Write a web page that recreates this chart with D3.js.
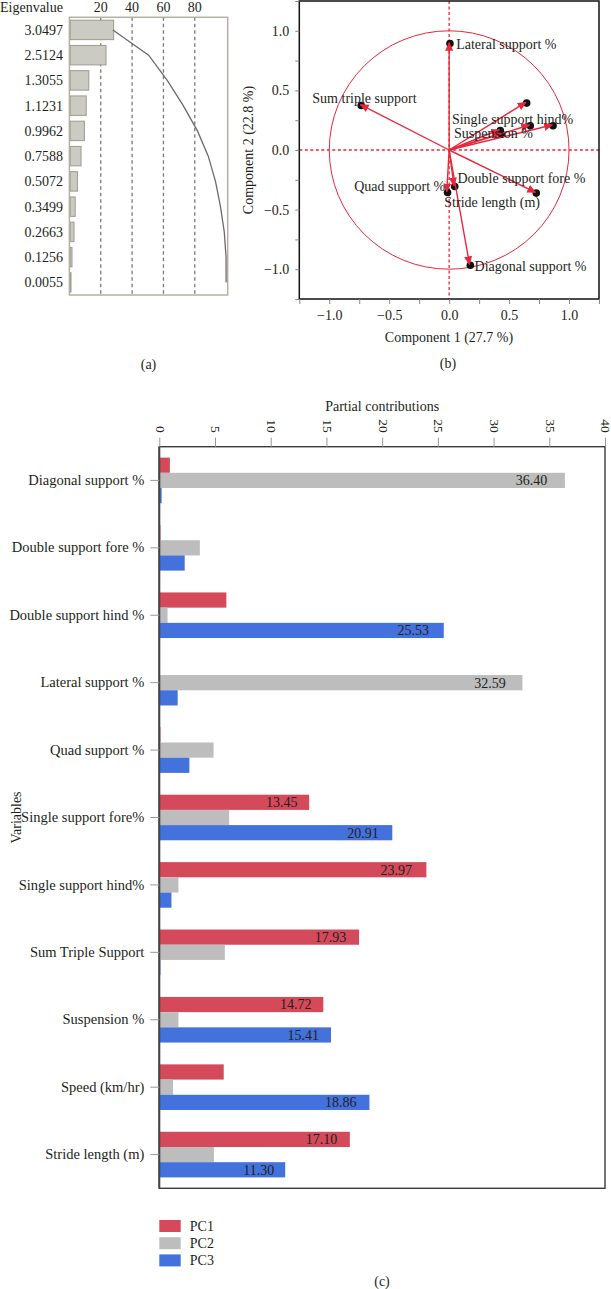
<!DOCTYPE html>
<html><head><meta charset="utf-8">
<script src="https://cdn.jsdelivr.net/npm/d3@7"></script>
<style>
body{margin:0;background:#fff}
svg{display:block;font-family:"Liberation Serif","Times New Roman",serif;}
text{fill:#231f20}
</style>
</head><body>
<svg id="chart" width="611" height="1289"></svg>
<script>
// ---------- Panel (a): scree data ----------
const eigenLabels = ["3.0497","2.5124","1.3055","1.1231","0.9962","0.7588","0.5072","0.3499","0.2663","0.1256","0.0055"];
const variancePct = [27.72, 22.84, 11.87, 10.21, 9.06, 6.90, 4.61, 3.18, 2.42, 1.14, 0.05];
const cumulativePct = [27.72, 50.56, 62.43, 72.64, 81.70, 88.60, 93.21, 96.39, 98.81, 99.95, 100.0];
const screeTicks = [20, 40, 60, 80];

// ---------- Panel (b): loadings ----------
const biplotVars = ["Diagonal support %","Double support fore %","Double support hind %","Lateral support %","Quad support %","Single support fore%","Single support hind%","Sum triple support","Suspension %","Speed (km/hr)","Stride length (m)"];
const comp1 = [0.17, 0.04, 0.43, 0.00, -0.02, 0.64, 0.86, -0.74, 0.67, 0.42, 0.72];
const comp2 = [-0.96, -0.30, 0.14, 0.90, -0.35, 0.40, 0.21, 0.38, 0.21, 0.17, -0.355];
const biplotTicks = [-1.25,-1,-0.75,-0.5,-0.25,0,0.25,0.5,0.75,1,1.25];

// ---------- Panel (c): partial contributions ----------
const variables = ["Diagonal support %","Double support fore %","Double support hind %","Lateral support %","Quad support %","Single support fore%","Single support hind%","Sum Triple Support","Suspension %","Speed (km/hr)","Stride length (m)"];
const pc1 = [0.95, 0.10, 6.02, 0.00, 0.10, 13.45, 23.97, 17.93, 14.72, 5.78, 17.10];
const pc2 = [36.40, 3.64, 0.74, 32.59, 4.87, 6.27, 1.72, 5.88, 1.72, 1.23, 4.90];
const pc3 = [0.21, 2.28, 25.53, 1.65, 2.70, 20.91, 1.09, 0.10, 15.41, 18.86, 11.30];
const seriesNames = ["PC1","PC2","PC3"];
const contribTicks = [0,5,10,15,20,25,30,35,40];

const svg = d3.select("#chart");
const FS = 14;

// ================= Panel (a) =================
{
  const x = d3.scaleLinear().domain([0, 101]).range([69.4, 227.7]);
  const y = d3.scaleBand().domain(d3.range(eigenLabels.length)).range([17.3, 295]).paddingInner(0.23).paddingOuter(0.115);
  const g = svg.append("g");
  g.selectAll("line.grid").data(screeTicks).join("line")
    .attr("x1", d => x(d)).attr("x2", d => x(d)).attr("y1", 17.3).attr("y2", 295)
    .attr("stroke", "#7a7a72").attr("stroke-width", 1.3).attr("stroke-dasharray", "3.5,3");
  g.selectAll("rect.bar").data(variancePct).join("rect")
    .attr("x", x(0) + 0.8).attr("y", (d, i) => y(i))
    .attr("width", d => Math.max(0.8, x(d) - x(0))).attr("height", y.bandwidth())
    .attr("fill", "#cbcbc3").attr("stroke", "#9b9b90").attr("stroke-width", 1);
  g.append("path").datum(cumulativePct)
    .attr("d", d3.line().x(d => x(d)).y((d, i) => y(i) + y.bandwidth() / 2))
    .attr("fill", "none").attr("stroke", "#6b6b6b").attr("stroke-width", 1.3);
  g.append("rect").attr("x", 69.4).attr("y", 17.3).attr("width", 227.7 - 69.4).attr("height", 295 - 17.3)
    .attr("fill", "none").attr("stroke", "#b3b09f").attr("stroke-width", 1.5);
  g.selectAll("text.tk").data(screeTicks).join("text")
    .attr("x", d => x(d)).attr("y", 12).attr("text-anchor", "middle").attr("font-size", FS).text(d => d);
  g.append("text").attr("x", 0).attr("y", 12).attr("font-size", FS).text("Eigenvalue");
  g.selectAll("text.row").data(eigenLabels).join("text")
    .attr("x", 63).attr("y", (d, i) => y(i) + y.bandwidth() / 2).attr("dy", "0.35em")
    .attr("text-anchor", "end").attr("font-size", FS).text(d => d);
  g.append("text").attr("x", 148.5).attr("y", 369).attr("text-anchor", "middle").attr("font-size", FS).text("(a)");
}

// ================= Panel (b) =================
{
  const red = "#e8273d";
  const x = d3.scaleLinear().domain([-1.25, 1.25]).range([299.3, 599]);
  const y = d3.scaleLinear().domain([-1.25, 1.25]).range([299, 1]);
  const g = svg.append("g");
  const defs = svg.append("defs");
  defs.append("marker").attr("id", "arr").attr("viewBox", "0 0 10 10")
    .attr("refX", 9).attr("refY", 5).attr("markerWidth", 9).attr("markerHeight", 9)
    .attr("markerUnits", "userSpaceOnUse").attr("orient", "auto")
    .append("path").attr("d", "M0,0.5 L10,5 L0,9.5 z").attr("fill", red);

  g.append("line").attr("x1", x(0)).attr("x2", x(0)).attr("y1", y(1.25)).attr("y2", y(-1.25))
    .attr("stroke", red).attr("stroke-width", 1.3).attr("stroke-dasharray", "3,2.5");
  g.append("line").attr("x1", x(-1.25)).attr("x2", x(1.25)).attr("y1", y(0)).attr("y2", y(0))
    .attr("stroke", red).attr("stroke-width", 1.3).attr("stroke-dasharray", "3,2.5");
  g.append("ellipse").attr("cx", x(0)).attr("cy", y(0)).attr("rx", x(1) - x(0)).attr("ry", y(0) - y(1))
    .attr("fill", "none").attr("stroke", red).attr("stroke-width", 1);
  const pts = biplotVars.map((v, i) => ({ v, cx: comp1[i], cy: comp2[i] }));
  g.selectAll("circle.pt").data(pts).join("circle")
    .attr("cx", d => x(d.cx) + 0.8).attr("cy", d => y(d.cy) + 0.8).attr("r", 3.8).attr("fill", "#111");
  g.selectAll("line.arr").data(pts).join("line")
    .attr("x1", x(0)).attr("y1", y(0)).attr("x2", d => x(d.cx)).attr("y2", d => y(d.cy))
    .attr("stroke", red).attr("stroke-width", 1.4).attr("marker-end", "url(#arr)");
  const labelLayout = {
    "Lateral support %": [7, 1, "start"],
    "Sum triple support": [4, -6.5, "middle"],
    "Single support hind%": [21, -5.5, "end"],
    "Suspension %": [3.5, 8.5, "end"],
    "Double support fore %": [3.5, -7.5, "start"],
    "Quad support %": [-1.5, -6, "end"],
    "Stride length (m)": [4.5, 9.5, "end"],
    "Diagonal support %": [5, 1.5, "start"]
  };
  g.selectAll("text.lbl").data(pts.filter(d => labelLayout[d.v])).join("text")
    .attr("x", d => x(d.cx) + labelLayout[d.v][0]).attr("y", d => y(d.cy) + labelLayout[d.v][1])
    .attr("dy", "0.35em").attr("text-anchor", d => labelLayout[d.v][2]).attr("font-size", FS).text(d => d.v);
  g.append("rect").attr("x", x(-1.25)).attr("y", y(1.25)).attr("width", x(1.25) - x(-1.25)).attr("height", y(-1.25) - y(1.25))
    .attr("fill", "none").attr("stroke", "#111").attr("stroke-width", 1.5);
  const fmt = d => (Math.abs(d * 2 - Math.round(d * 2)) < 1e-9 && Math.abs(d) <= 1) ? d3.format(".1f")(d) : "";
  const ax = g.append("g").attr("transform", `translate(0,${y(-1.25)})`)
    .call(d3.axisBottom(x).tickValues(biplotTicks).tickSize(5).tickPadding(6).tickFormat(fmt));
  const ay = g.append("g").attr("transform", `translate(${x(-1.25)},0)`)
    .call(d3.axisLeft(y).tickValues(biplotTicks).tickSize(4).tickPadding(6).tickFormat(fmt));
  [ax, ay].forEach(a => {
    a.select(".domain").remove();
    a.selectAll(".tick line").attr("stroke", "#888");
    a.selectAll("text").attr("font-size", FS).attr("font-family", "Liberation Serif").attr("fill", "#231f20");
  });
  g.append("text").attr("x", 449).attr("y", 341.5).attr("text-anchor", "middle").attr("font-size", FS).text("Component 1 (27.7 %)");
  g.append("text").attr("transform", "translate(253,150) rotate(-90)").attr("text-anchor", "middle").attr("font-size", FS).text("Component 2 (22.8 %)");
  g.append("text").attr("x", 448).attr("y", 368).attr("text-anchor", "middle").attr("font-size", FS).text("(b)");
}

// ================= Panel (c) =================
{
  const colors = { PC1: "#d44a5b", PC2: "#bdbdbe", PC3: "#4472dc" };
  const L = 159.3, R = 605, T = 446.7, B = 1188.3;
  const x = d3.scaleLinear().domain([0, 40]).range([L, R]);
  const y = d3.scaleBand().domain(variables).range([T, B]);
  const inner = d3.scaleBand().domain(seriesNames).range([0, 45.6]);
  const g = svg.append("g");
  const rows = variables.map((v, i) => ({ v, vals: [pc1[i], pc2[i], pc3[i]] }));
  const bars = [];
  rows.forEach(r => r.vals.forEach((val, k) => bars.push({ v: r.v, s: seriesNames[k], val })));
  const by = d => y(d.v) + y.bandwidth() / 2 - 22.8 + inner(d.s);
  g.selectAll("rect.bar").data(bars).join("rect")
    .attr("x", L).attr("y", by).attr("width", d => Math.max(0, x(d.val) - L)).attr("height", inner.bandwidth())
    .attr("fill", d => colors[d.s]);
  g.selectAll("text.val").data(bars.filter(d => d.val >= 10)).join("text")
    .attr("x", d => x(d.val) - (8 + 0.024 * (x(d.val) - L))).attr("y", d => by(d) + inner.bandwidth() / 2)
    .attr("dy", "0.35em").attr("text-anchor", "end").attr("font-size", FS).text(d => d3.format(".2f")(d.val));
  g.append("rect").attr("x", L).attr("y", T).attr("width", R - L).attr("height", B - T)
    .attr("fill", "none").attr("stroke", "#3a3a3a").attr("stroke-width", 1.4);
  g.append("line").attr("x1", L).attr("x2", L).attr("y1", T).attr("y2", B).attr("stroke", "#444").attr("stroke-width", 2);
  const ax = g.append("g").attr("transform", `translate(0,${T})`)
    .call(d3.axisTop(x).tickValues(contribTicks).tickSize(9).tickFormat(d3.format("d")));
  ax.select(".domain").remove();
  ax.selectAll(".tick line").attr("stroke", "#999");
  ax.selectAll(".tick text").attr("font-size", 13.5).attr("font-family", "Liberation Serif").attr("fill", "#231f20")
    .attr("transform", "translate(0,-14) rotate(90)").attr("x", 0).attr("y", 0).attr("dy", "0.3em").attr("text-anchor", "end");
  const ay = g.append("g").attr("transform", `translate(${L},0)`)
    .call(d3.axisLeft(y).tickSize(9).tickPadding(6));
  ay.select(".domain").remove();
  ay.selectAll(".tick line").attr("stroke", "#999");
  ay.selectAll(".tick text").attr("font-size", 14.5).attr("font-family", "Liberation Serif").attr("fill", "#231f20");
  g.append("text").attr("x", (L + R) / 2).attr("y", 406).attr("dy", "0.35em").attr("text-anchor", "middle").attr("font-size", FS).text("Partial contributions");
  g.append("text").attr("transform", `translate(16,${(T + B) / 2}) rotate(-90)`).attr("dy", "0.35em").attr("text-anchor", "middle").attr("font-size", FS).text("Variables");
  const lg = g.append("g").attr("transform", "translate(159.3,1220)");
  seriesNames.forEach((s, i) => {
    lg.append("rect").attr("x", 0).attr("y", i * 17.2).attr("width", 21.4).attr("height", 12).attr("fill", colors[s]);
    lg.append("text").attr("x", 30.5).attr("y", i * 17.2 + 6).attr("dy", "0.35em").attr("font-size", FS).text(s);
  });
  g.append("text").attr("x", 382).attr("y", 1286).attr("text-anchor", "middle").attr("font-size", FS).text("(c)");
}
</script>
</body></html>
